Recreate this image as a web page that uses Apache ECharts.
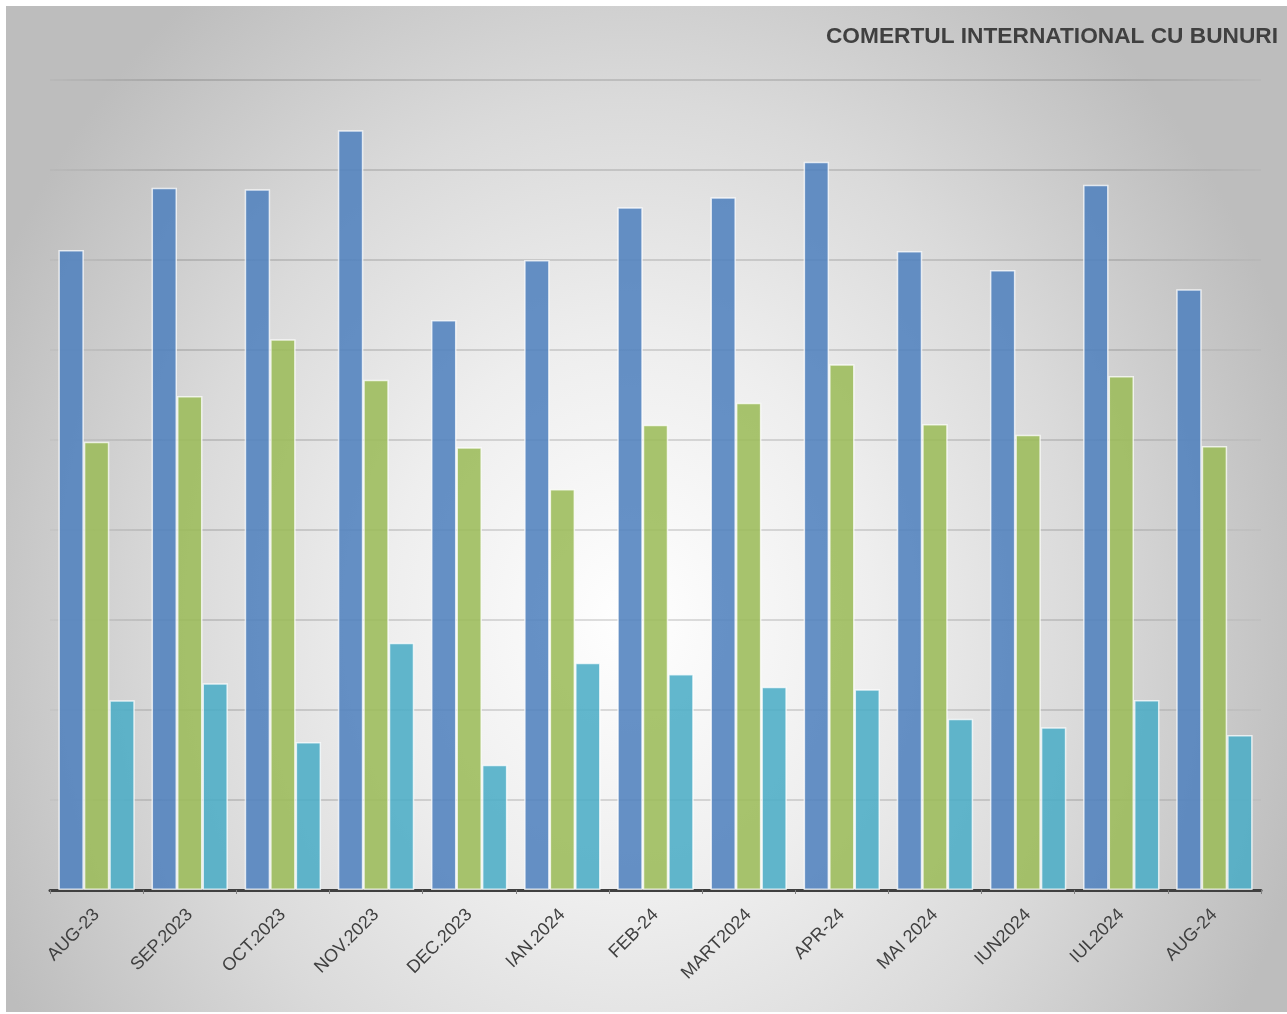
<!DOCTYPE html>
<html>
<head>
<meta charset="utf-8">
<script src="https://cdn.jsdelivr.net/npm/echarts@6/dist/echarts.min.js"></script>
<style>
html,body{margin:0;padding:0;background:#ffffff;}
#chart{position:absolute;left:6px;top:6px;width:1281px;height:1006px;
background:radial-gradient(ellipse 700px 800px at 624px 614px,#ffffff 0%,#eeeeee 35%,#dadada 65%,#bdbdbd 100%);}
</style>
</head>
<body>
<div id="chart"></div>
<script>
const categories = ['AUG-23','SEP.2023','OCT.2023','NOV.2023','DEC.2023','IAN.2024','FEB-24','MART2024','APR-24','MAI 2024','IUN2024','IUL2024','AUG-24'];
const importuri = [7111, 7803, 7786, 8441, 6333, 7000, 7585, 7697, 8092, 7100, 6889, 7837, 6674];
const exporturi = [4981, 5489, 6119, 5670, 4919, 4456, 5170, 5414, 5841, 5178, 5059, 5711, 4933];
const deficit   = [2108, 2297, 1644, 2748, 1392, 2526, 2400, 2259, 2230, 1903, 1808, 2111, 1722];
const titleText = 'COMERTUL INTERNATIONAL CU BUNURI';

const chart = echarts.init(document.getElementById('chart'), null, {renderer:'canvas'});
const barStyle = (c) => ({color: c, opacity: 0.87, borderColor: 'rgba(255,255,255,0.85)', borderWidth: 1.5});
const gridColor = new echarts.graphic.LinearGradient(0, 0, 1, 0, [
  {offset: 0, color: 'rgba(0,0,0,0.02)'},
  {offset: 0.1, color: 'rgba(0,0,0,0.13)'},
  {offset: 0.88, color: 'rgba(0,0,0,0.12)'},
  {offset: 1, color: 'rgba(0,0,0,0.02)'}
]);
chart.setOption({
  animation: false,
  backgroundColor: 'transparent',
  title: {
    text: titleText,
    right: 4,
    top: 14,
    textStyle: {fontFamily: 'Liberation Sans, Arial, sans-serif', fontWeight: 'bold', fontSize: 22.7, color: '#404040'}
  },
  grid: {left: 44, right: 26, top: 74, bottom: 122, containLabel: false},
  xAxis: {
    type: 'category',
    data: categories,
    axisLine: {show: true, lineStyle: {color: '#404040', width: 3}},
    axisTick: {show: true, length: 4, lineStyle: {color: '#808080', width: 1}},
    axisLabel: {rotate: 45, margin: 22, fontSize: 18, color: '#404040', fontFamily: 'Liberation Sans, Arial, sans-serif'}
  },
  yAxis: {
    type: 'value',
    min: 0, max: 9000, interval: 1000,
    axisLine: {show: false},
    axisTick: {show: false},
    axisLabel: {show: false},
    splitLine: {show: true, lineStyle: {color: gridColor, width: 2}}
  },
  series: [
    {name: 'Importuri', type: 'bar', data: importuri, barGap: '0%', barCategoryGap: '18%', itemStyle: barStyle('#4F81BD')},
    {name: 'Exporturi', type: 'bar', data: exporturi, itemStyle: barStyle('#9BBB59')},
    {name: 'Deficit', type: 'bar', data: deficit, itemStyle: barStyle('#4BACC6')}
  ]
});
</script>
</body>
</html>
